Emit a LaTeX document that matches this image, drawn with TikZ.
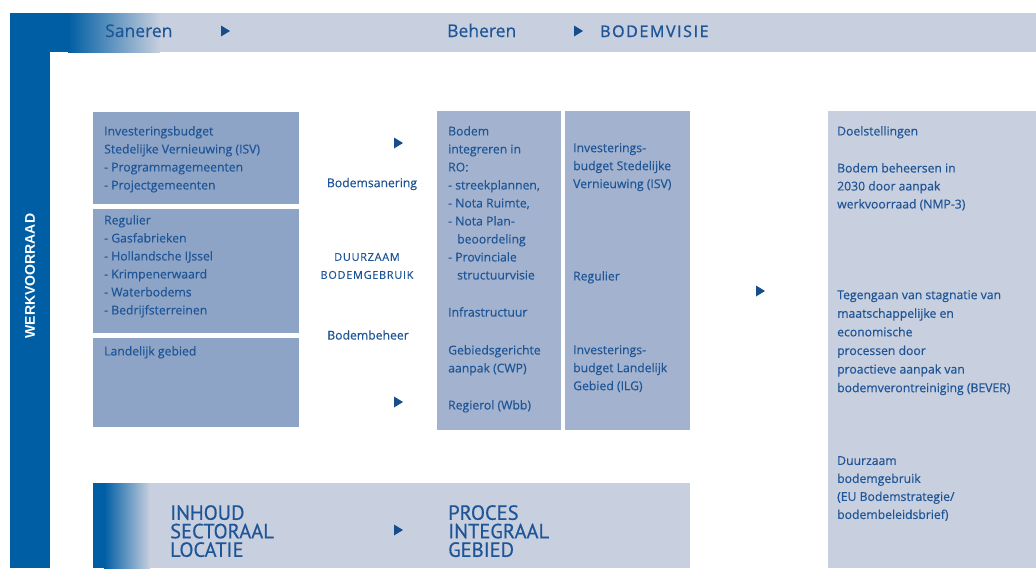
\documentclass[tikz,border=0pt]{standalone}
\usepackage{fontspec}
\setmainfont{Open Sans}
\newfontfamily\bodyf{Open Sans}[FakeBold=0.35]
\newfontfamily\ptsans{PT Sans}[FakeBold=0.4]
\newfontfamily\arialb{Liberation Sans}
\definecolor{bblue}{RGB}{0,94,164}
\definecolor{barc}{RGB}{200,207,222}
\definecolor{leftc}{RGB}{142,164,199}
\definecolor{midc}{RGB}{163,179,207}
\definecolor{rightc}{RGB}{200,207,222}
\definecolor{txtc}{RGB}{30,85,150}
\definecolor{tric}{RGB}{22,78,140}
\begin{document}
\begin{tikzpicture}[x=1pt,y=-1pt,
  body/.style={text=txtc, font=\bodyf\fontsize{12.2}{18}\selectfont, align=left, anchor=north west, inner sep=0pt},
  mid/.style={text=txtc, font=\bodyf\fontsize{12.2}{18}\selectfont, align=center, inner sep=0pt},
  head/.style={text=txtc, font=\bodyf\fontsize{17.5}{18}\selectfont, anchor=base west, inner sep=0pt},
  big/.style={text=txtc, font=\ptsans\fontsize{20.5}{18.5}\selectfont, align=left, anchor=north west, inner sep=0pt},
  tri/.pic={\fill[tric] (-4,-5.5) -- (5,0) -- (-4,5.5) -- cycle;}]
\useasboundingbox (0,0) rectangle (1036,568);
\fill[white] (0,0) rectangle (1036,568);
% top bar and left bar
\fill[barc] (10,13) rectangle (1036,52);
\fill[bblue] (10,13) rectangle (68,52);
\shade[left color=bblue, right color=barc] (68,13) rectangle (160,52);
\fill[bblue] (10,13) rectangle (50,568);
\node[rotate=90, text=white, font=\arialb\bfseries\fontsize{14}{14}\selectfont, inner sep=0pt] (werk) at (30,276) {WERKVOORRAAD};
% header texts
\node[head] (san) at (105,37) {Saneren};
\node[head] (beh) at (447,37) {Beheren};
\node[head, font=\fontsize{16}{18}\selectfont\addfontfeatures{LetterSpace=10,FakeBold=1.2}] (visie) at (600,37) {BODEMVISIE};
\pic at (225,31) {tri};
\pic at (578,31) {tri};
% left boxes
\fill[leftc] (93,112) rectangle (299,204);
\fill[leftc] (93,209) rectangle (299,333);
\fill[leftc] (93,338) rectangle (299,427);
\node[body] (l1) at (104,126) {Investeringsbudget\\Stedelijke Vernieuwing (ISV)\\- Programmagemeenten\\- Projectgemeenten};
\node[body] (l2) at (104,215) {Regulier\\- Gasfabrieken\\- Hollandsche IJssel\\- Krimpenerwaard\\- Waterbodems\\- Bedrijfsterreinen};
\node[body] (l3) at (104,346) {Landelijk gebied};
% middle labels
\pic at (398,143) {tri};
\pic at (398,402) {tri};
\node[mid] (ms) at (372,184) {Bodemsanering};
\node[mid, font=\bodyf\fontsize{11}{18}\selectfont\addfontfeatures{LetterSpace=6}] (md) at (367,266) {DUURZAAM\\BODEMGEBRUIK};
\node[mid] (mb) at (368,335) {Bodembeheer};
% middle boxes
\fill[midc] (437,111) rectangle (561,430);
\fill[midc] (565,111) rectangle (690,430);
\node[body] (a1) at (448,126) {Bodem\\integreren in\\RO:\\- streekplannen,\\- Nota Ruimte,\\- Nota Plan-\\\hspace*{9pt}beoordeling\\- Provinciale\\\hspace*{9pt}structuurvisie};
\node[body] (a2) at (448,307) {Infrastructuur};
\node[body] (a3) at (448,345) {Gebiedsgerichte\\aanpak (CWP)};
\node[body] (a4) at (448,400) {Regierol (Wbb)};
\node[body] (b1) at (573,143) {Investerings-\\budget Stedelijke\\Vernieuwing (ISV)};
\node[body] (b2) at (573,271) {Regulier};
\node[body] (b3) at (573,345) {Investerings-\\budget Landelijk\\Gebied (ILG)};
% right box
\pic at (760,291) {tri};
\fill[rightc] (828,111) rectangle (1036,568);
\node[body] (r1) at (837,126) {Doelstellingen};
\node[body] (r2) at (837,163) {Bodem beheersen in\\2030 door aanpak\\werkvoorraad (NMP-3)};
\node[body, font=\bodyf\fontsize{12.2}{18.6}\selectfont] (r3) at (837,290) {Tegengaan van stagnatie van\\maatschappelijke en\\economische\\processen door\\proactieve aanpak van\\bodemverontreiniging (BEVER)};
\node[body] (r4) at (837,456) {Duurzaam\\bodemgebruik\\(EU Bodemstrategie/\\bodembeleidsbrief)};
% bottom bar
\fill[barc] (93,483) rectangle (690,568);
\fill[bblue] (93,483) rectangle (104,568);
\shade[left color=bblue, right color=barc] (104,483) rectangle (150,568);
\node[big] (inh) at (170,505) {INHOUD\\SECTORAAL\\LOCATIE};
\node[big] (pro) at (448,505) {PROCES\\INTEGRAAL\\GEBIED};
\pic at (398,530) {tri};
\end{tikzpicture}
\end{document}
